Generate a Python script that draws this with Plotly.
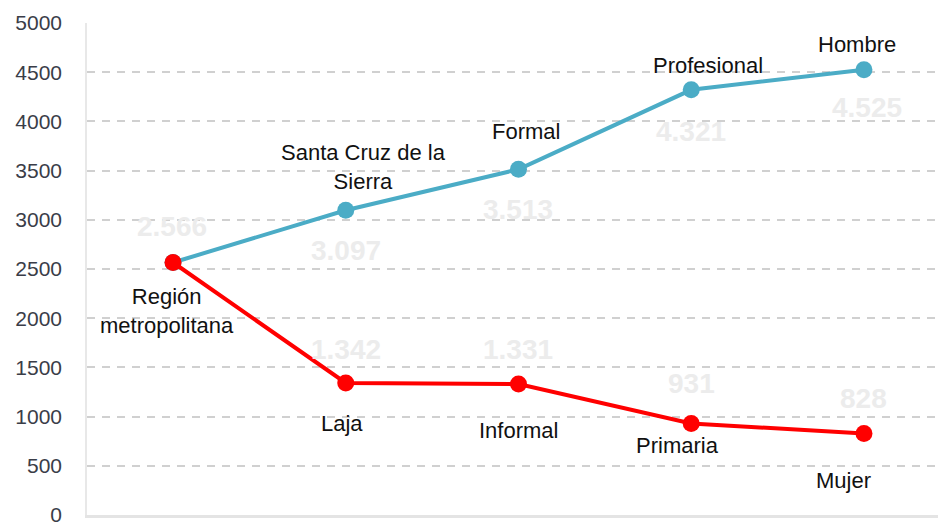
import plotly.graph_objects as go

# ---- data ----
x_pos = [0, 1, 2, 3, 4]
upper_labels = ["Región<br>metropolitana", "Santa Cruz de la<br>Sierra", "Formal", "Profesional", "Hombre"]
upper_values = [2566, 3097, 3513, 4321, 4525]
lower_labels = ["Región<br>metropolitana", "Laja", "Informal", "Primaria", "Mujer"]
lower_values = [2566, 1342, 1331, 931, 828]
value_text_upper = ["2.566", "3.097", "3.513", "4.321", "4.525"]
value_text_lower = ["2.566", "1.342", "1.331", "931", "828"]
y_ticks = [0, 500, 1000, 1500, 2000, 2500, 3000, 3500, 4000, 4500, 5000]

# ---- label offsets (pixels) ----
upper_cat_shift = [(-6, -48), (18, 43), (8, 38), (17, 24), (-7, 25)]
lower_cat_shift = [None, (-4, -41), (0, -46), (-14, -22), (-20, -47)]
upper_val_shift = [(-1, 36), (0, -40), (0, -40), (0, -42), (3, -38)]
lower_val_shift = [None, (0, 33), (0, 35), (0, 40), (0, 35)]

BLUE = "#4BACC6"
RED = "#FF0000"
FONT = "Liberation Sans, Arial, sans-serif"

fig = go.Figure()
fig.add_trace(go.Scatter(x=x_pos, y=upper_values, mode="lines+markers",
                         line=dict(color=BLUE, width=4),
                         marker=dict(color=BLUE, size=17), hoverinfo="skip"))
fig.add_trace(go.Scatter(x=x_pos, y=lower_values, mode="lines+markers",
                         line=dict(color=RED, width=4),
                         marker=dict(color=RED, size=17), hoverinfo="skip"))

annotations = []
def add_labels(labels, values, shifts, color, size, bold=False):
    for xi, lab, v, s in zip(x_pos, labels, values, shifts):
        if s is None:
            continue
        annotations.append(dict(x=xi, y=v, xref="x", yref="y", text=(f"<b>{lab}</b>" if bold else lab),
                                showarrow=False, xshift=s[0], yshift=s[1],
                                font=dict(family=FONT, size=size, color=color),
                                align="center"))

add_labels(value_text_upper, upper_values, upper_val_shift, "#ececec", 28, bold=True)
add_labels(value_text_lower, lower_values, lower_val_shift, "#ececec", 28, bold=True)
add_labels(upper_labels, upper_values, upper_cat_shift, "#111111", 22)
add_labels(lower_labels, lower_values, lower_cat_shift, "#111111", 22)

# page body has an 8px default margin; figure sized/placed to compensate
fig.update_layout(
    width=938, height=517,
    margin=dict(l=79, r=0, t=15, b=10, autoexpand=False),
    paper_bgcolor="white", plot_bgcolor="white",
    showlegend=False,
    annotations=annotations,
    xaxis=dict(range=[-0.498, 4.475], showgrid=False, zeroline=False, automargin=False,
               showticklabels=False, showline=True, linecolor="#e4e4e4", linewidth=3,
               fixedrange=True),
    yaxis=dict(range=[0, 5000], tickvals=y_ticks, showgrid=True, automargin=False,
               gridcolor="#d0d0d0", gridwidth=1.5, griddash="8px,7px",
               zeroline=False, showline=True, linecolor="#e8e8e8", linewidth=1.5,
               ticks="", ticklabelstandoff=19, ticklabeloverflow="allow",
               tickfont=dict(family=FONT, size=21, color="#3a3d48"), fixedrange=True),
)

fig.write_html("out.html")
